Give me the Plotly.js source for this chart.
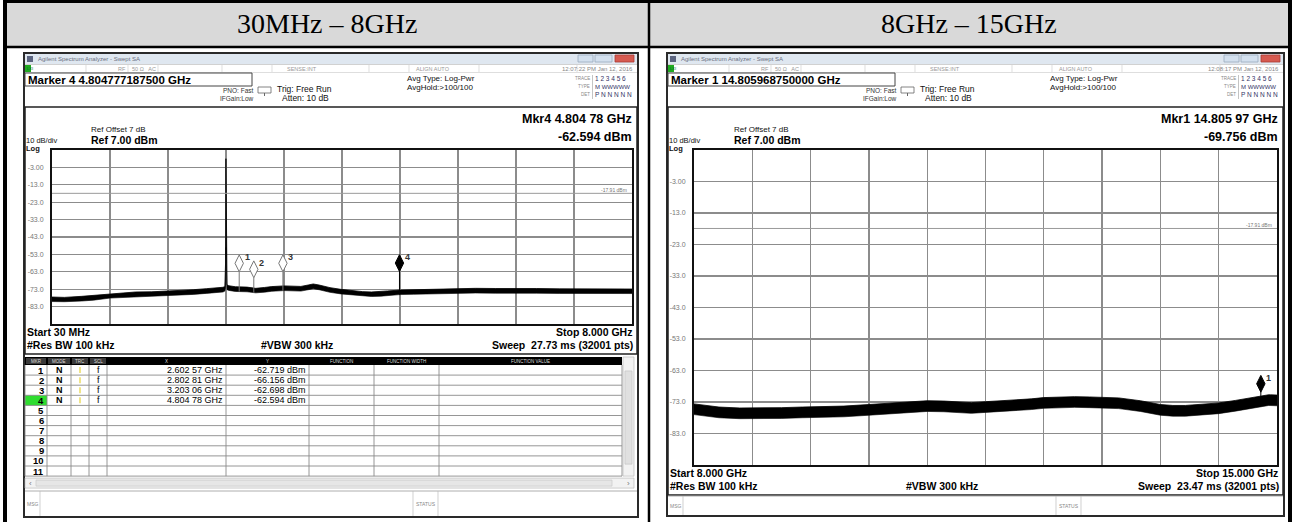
<!DOCTYPE html>
<html><head><meta charset="utf-8">
<script src="https://cdn.plot.ly/plotly-3.0.1.min.js"></script>
<style>html,body{margin:0;padding:0;background:#fff;}#chart{width:1292px;height:522px;}</style>
</head><body><div id="chart"></div>
<script>
// ---------------- data ----------------
const headers = ['30MHz – 8GHz', '8GHz – 15GHz'];
const yTickVals = [-3, -13, -23, -33, -43, -53, -63, -73, -83];
const yTickText = ['-3.00', '-13.0', '-23.0', '-33.0', '-43.0', '-53.0', '-63.0', '-73.0', '-83.0'];
const refLevel = 7, bottomLevel = -93;
const limitLine = -17.91;

// panel 1 : 30 MHz – 8 GHz
const spanL = [0.03, 8.0];
const freqL = [0.03,0.2,0.44,0.6,0.83,1.0,1.18,1.4,1.61,1.8,1.97,2.15,2.3,2.38,2.405,2.415,2.42,2.425,2.435,2.46,2.55,2.71,2.83,2.95,3.05,3.22,3.35,3.45,3.55,3.62,3.7,3.85,4.0,4.13,4.3,4.42,4.55,4.64,4.81,5.0,5.27,5.45,5.61,5.85,6.12,6.4,6.69,7.0,7.26,7.6,8.0];
const upperL = [-77.5,-77.7,-77.1,-76.6,-75.5,-75.1,-74.6,-74.5,-74.2,-73.8,-73.3,-72.7,-72.3,-71.9,-71.4,-58,2,-56,-70.5,-71.0,-71.6,-71.8,-72.5,-72.0,-71.5,-71.1,-71.4,-71.4,-70.6,-70.0,-70.6,-72.1,-73.1,-73.7,-74.4,-74.6,-74.4,-74.0,-73.5,-73.3,-73.1,-72.7,-72.4,-72.5,-72.6,-72.4,-72.6,-72.8,-72.8,-72.7,-72.9];
const lowerL = [-80.1,-80.2,-79.8,-79.3,-78.1,-77.8,-77.3,-77.2,-76.9,-76.5,-76.0,-75.4,-75.0,-74.6,-74.1,-72,-49,-71,-73.3,-73.7,-74.3,-74.5,-75.1,-74.7,-74.2,-73.8,-74.1,-74.1,-73.3,-72.7,-73.3,-74.8,-75.7,-76.3,-77.0,-77.2,-77.0,-76.6,-76.1,-75.9,-75.7,-75.3,-75.1,-75.2,-75.3,-75.1,-75.3,-75.4,-75.5,-75.4,-75.5];
const mkNumL = ['1', '2', '3', '4'];
const mkFreqL = [2.60257, 2.80281, 3.20306, 4.80478];
const mkLevelL = [-62.719, -66.156, -62.698, -62.594];
const mkXText = ['2.602 57 GHz', '2.802 81 GHz', '3.203 06 GHz', '4.804 78 GHz'];
const mkYText = ['-62.719 dBm', '-66.156 dBm', '-62.698 dBm', '-62.594 dBm'];
const activeL = 3; // marker 4 is the active one

// panel 2 : 8 GHz – 15 GHz
const spanR = [8.0, 15.0];
const freqR = [8.0,8.15,8.3,8.55,8.8,9.05,9.3,9.55,9.8,10.1,10.3,10.5,10.8,11.0,11.2,11.33,11.5,11.7,11.9,12.05,12.2,12.4,12.57,12.75,12.9,13.1,13.36,13.6,13.75,13.9,14.1,14.3,14.5,14.65,14.8,14.9,15.0];
const upperR = [-73.6,-74.2,-74.6,-74.9,-74.9,-74.8,-74.6,-74.5,-74.3,-73.8,-73.4,-73.0,-72.6,-72.7,-72.9,-73.2,-72.9,-72.6,-72.3,-72.0,-71.6,-71.4,-71.3,-71.4,-71.5,-71.7,-72.6,-73.8,-74.1,-74.1,-73.7,-73.3,-72.5,-71.8,-71.1,-70.7,-70.8];
const lowerR = [-77.0,-77.6,-78.0,-78.3,-78.3,-78.2,-78.0,-77.9,-77.7,-77.2,-76.8,-76.4,-76.0,-76.1,-76.3,-76.6,-76.3,-76.0,-75.7,-75.4,-75.0,-74.8,-74.7,-74.8,-74.9,-75.1,-76.0,-77.2,-77.5,-77.5,-77.1,-76.7,-75.9,-75.2,-74.5,-74.1,-74.2];
const mkNumR = ['1'];
const mkFreqR = [14.80597];
const mkLevelR = [-69.756];

const infoL = {
  marker: 'Marker 4 4.804777187500 GHz', time: '12:07:22 PM Jan 12, 2016',
  mkr1: 'Mkr4 4.804 78 GHz', mkr2: '-62.594 dBm',
  start: 'Start 30 MHz', stop: 'Stop 8.000 GHz', sweep: 'Sweep  27.73 ms (32001 pts)'
};
const infoR = {
  marker: 'Marker 1 14.805968750000 GHz', time: '12:08:17 PM Jan 12, 2016',
  mkr1: 'Mkr1 14.805 97 GHz', mkr2: '-69.756 dBm',
  start: 'Start 8.000 GHz', stop: 'Stop 15.000 GHz', sweep: 'Sweep  23.47 ms (32001 pts)'
};
const tableHead = ['MKR', 'MODE', 'TRC', 'SCL', 'X', 'Y', 'FUNCTION', 'FUNCTION WIDTH', 'FUNCTION VALUE'];
const tableRows = 11;

// ---------------- helpers ----------------
const W = 1292, H = 522;
const shapes = [], ann = [];
const SANS = 'Liberation Sans, Arial, sans-serif';
const NARROW = 'Liberation Sans Narrow, Liberation Sans, Arial, sans-serif';
const X = px => px / W, Y = py => 1 - py / H;
function rect(x0, y0, x1, y1, fill, lc, lw, layer) {
  shapes.push({type: 'rect', xref: 'paper', yref: 'paper', x0: X(x0), x1: X(x1), y0: Y(y1), y1: Y(y0),
    fillcolor: fill || 'rgba(0,0,0,0)', line: {color: lc || 'rgba(0,0,0,0)', width: lw || 0}, layer: layer || 'above'});
}
function seg(x0, y0, x1, y1, color, lw, layer) {
  shapes.push({type: 'line', xref: 'paper', yref: 'paper', x0: X(x0), x1: X(x1), y0: Y(y0), y1: Y(y1),
    line: {color: color, width: lw}, layer: layer || 'above'});
}
function txt(s, x, y, size, o) {
  o = o || {};
  ann.push({xref: 'paper', yref: 'paper', x: X(x), y: Y(y), text: o.bold ? '<b>' + s + '</b>' : s, showarrow: false,
    xanchor: o.anchor || 'left', yanchor: 'middle', borderpad: 0,
    font: {family: o.family || SANS, size: size, color: o.color || '#000'}});
}
function interp(xs, ys, x) {
  for (let i = 1; i < xs.length; i++) if (x <= xs[i]) {
    const t = (x - xs[i - 1]) / (xs[i] - xs[i - 1]); return ys[i - 1] + t * (ys[i] - ys[i - 1]);
  }
  return ys[ys.length - 1];
}
const gridX = s => Array.from({length: 9}, (_, k) => s[0] + (k + 1) * (s[1] - s[0]) / 10);

// ---------------- outer table ----------------
rect(7, 3, 1288, 46, '#d9d9d9', null, 0, 'below');
seg(3, 1.5, 1292, 1.5, '#000', 3);
seg(5, 0, 5, 522, '#000', 4);
seg(1290, 0, 1290, 522, '#000', 4);
seg(649, 0, 649, 522, '#000', 2.5);
seg(3, 47, 1292, 47, '#000', 2.6);
txt(headers[0], 327, 23, 28, {anchor: 'center', family: 'Liberation Serif, Times New Roman, serif'});
txt(headers[1], 969, 23, 28, {anchor: 'center', family: 'Liberation Serif, Times New Roman, serif'});

// ---------------- analyzer window ----------------
function panel(p, info) {
  const L = p.left, R = p.right, T = 53, B = p.bottom;
  rect(L, T, R, B, '#fff', '#2a2a2a', 2, 'below');
  // title bar
  rect(L + 1, T + 1, R - 1, T + 11, '#dfe7f0', null, 0, 'below');
  rect(L + 3, T + 3, L + 9, T + 9, '#5b6480');
  txt('Agilent Spectrum Analyzer - Swept SA', L + 13, T + 6, 6, {color: '#6a7080'});
  rect(R - 60, T + 2, R - 45, T + 9, '#d3e0ee', '#9aabbd', 0.8);
  rect(R - 43, T + 2, R - 26, T + 9, '#d3e0ee', '#9aabbd', 0.8);
  rect(R - 23, T + 2, R - 4, T + 9, '#d65a50', '#a83a33', 0.8);
  // status row
  seg(L + 1, T + 11.5, R - 1, T + 11.5, '#c5c5c5', 0.8);
  seg(L + 1, T + 19.5, R - 1, T + 19.5, '#d5d5d5', 0.8);
  rect(L + 1, T + 12, L + 7, T + 19, '#1faa1f');
  txt('LXI', L + 1.5, T + 15.5, 4, {color: '#063'});
  [62, 104, 134, 198, 248, 345, 385, 455, 553].forEach(d => seg(L + d, T + 12, L + d, T + 19, '#d0d0d0', 0.7));
  txt('RF', L + 93, T + 15.5, 5.5, {color: '#999'});
  txt('50 Ω   AC', L + 107, T + 15.5, 5.5, {color: '#999'});
  txt('SENSE:INT', L + 262, T + 15.5, 5.5, {color: '#999'});
  txt('ALIGN AUTO', L + 391, T + 15.5, 5.5, {color: '#999'});
  txt(info.time, R - 4, T + 15.5, 6, {anchor: 'right', color: '#888'});
  // marker line
  rect(L + 1, T + 20, L + 228, T + 33, '#fff', '#444', 1);
  txt(info.marker, L + 3, T + 26.5, 11.5, {bold: true});
  txt('PNO: Fast', L + 198, T + 37, 6.5, {color: '#333', family: NARROW});
  txt('IFGain:Low', L + 195, T + 45, 6.5, {color: '#333', family: NARROW});
  rect(L + 234, T + 34, L + 247, T + 40, '#fff', '#666', 0.8);
  seg(L + 240.5, T + 40, L + 240.5, T + 43, '#666', 1);
  txt('Trig: Free Run', L + 252, T + 35.5, 8.5, {color: '#111'});
  txt('Atten: 10 dB', L + 257, T + 44.5, 8.5, {color: '#111'});
  txt('Avg Type: Log-Pwr', L + 382, T + 25.5, 8, {color: '#111'});
  txt('AvgHold:>100/100', L + 382, T + 35, 8, {color: '#111'});
  txt('TRACE', R - 47, T + 26, 4.5, {anchor: 'right', color: '#888'});
  txt('TYPE', R - 47, T + 34, 4.5, {anchor: 'right', color: '#888'});
  txt('DET', R - 47, T + 42, 4.5, {anchor: 'right', color: '#888'});
  seg(R - 45.5, T + 22, R - 45.5, T + 46, '#aaa', 0.7);
  txt('1 2 3 4 5 6', R - 44, T + 26, 6.5, {color: '#336'});
  txt('M WWWWW', R - 44, T + 34, 6, {color: '#336'});
  txt('P N N N N N', R - 44, T + 42, 6.5, {color: '#336'});
  // measurement box
  rect(L + 1, 107, R - 1, p.boxBottom, 'rgba(0,0,0,0)', '#222', 1.5);
  txt(info.mkr1, R - 5, 119, 12.5, {anchor: 'right', bold: true});
  txt(info.mkr2, R - 5, 136.5, 12.5, {anchor: 'right', bold: true});
  txt('Ref Offset 7 dB', L + 66, 129, 8, {color: '#111'});
  txt('10 dB/div', L + 1, 140, 7.5, {color: '#111'});
  txt('Ref 7.00 dBm', L + 66, 140.5, 10.5, {bold: true});
  txt('Log', L + 1, 148.5, 7.5, {bold: true, color: '#111'});
  const pb = p.plotBottom;
  txt(info.start, L + 2, pb + 7.5, 10.5, {bold: true});
  txt('#Res BW 100 kHz', L + 2, pb + 21, 10.5, {bold: true});
  txt('#VBW 300 kHz', p.vbwX, pb + 21, 10.5, {bold: true, anchor: 'center'});
  txt(info.stop, R - 5, pb + 7.5, 10.5, {bold: true, anchor: 'right'});
  txt(info.sweep, R - 4, pb + 21, 10.5, {bold: true, anchor: 'right'});
  // message row
  const my = p.msgTop;
  seg(L + 1, my, R - 1, my, '#999', 0.8);
  seg(L + 16, my, L + 16, B - 1, '#bbb', 0.7);
  txt('MSG', L + 2, (my + B) / 2, 5, {color: '#888'});
  seg(L + 389, my, L + 389, B - 1, '#bbb', 0.7);
  seg(L + 414, my, L + 414, B - 1, '#bbb', 0.7);
  txt('STATUS', L + 391, (my + B) / 2, 5, {color: '#888'});
}

const pL = {left: 24, right: 638, bottom: 517, boxBottom: 354, plotBottom: 324, vbwX: 297, msgTop: 491};
const pR = {left: 667, right: 1284, bottom: 516, boxBottom: 495, plotBottom: 465, vbwX: 942, msgTop: 496};
panel(pL, infoL);
panel(pR, infoR);

// marker table (left window only)
(function () {
  const cols = [25, 47, 71, 89, 107, 226, 309, 374, 439, 622];
  const hT = 357, hB = 365, rowH = 10.1;
  rect(25, hT, 622, hB, '#000');
  [25, 47, 71, 89].forEach((c, i) => rect(c + 1, hT + 1, cols[i + 1] - 1, hB - 1, '#3a3a3a'));
  tableHead.forEach((h, i) => txt(h, (cols[i] + cols[i + 1]) / 2, (hT + hB) / 2, 4.5, {anchor: 'center', color: '#ddd'}));
  const tb = hB + rowH * tableRows;
  rect(25, hB + rowH * activeL, 47, hB + rowH * (activeL + 1), '#2fdc2f');
  for (let r = 1; r <= tableRows; r++) seg(25, hB + rowH * r, 622, hB + rowH * r, '#8a8a8a', 0.9);
  cols.forEach(c => seg(c, hB, c, tb, '#8a8a8a', 0.9));
  for (let r = 0; r < tableRows; r++) {
    const cy = hB + rowH * (r + 0.5);
    txt(String(r + 1), 45, cy, 9.5, {anchor: 'right', bold: true});
    if (r < mkNumL.length) {
      txt('N', 59, cy, 9, {anchor: 'center', bold: true});
      seg(80, cy - 3, 80, cy + 3, '#e6d23c', 1.2);
      txt('f', 98, cy, 9, {anchor: 'center'});
      txt(mkXText[r], 224, cy, 9, {anchor: 'right', family: NARROW});
      txt(mkYText[r], 307, cy, 9, {anchor: 'right', family: NARROW});
    }
  }
  // scroll bars
  rect(623, hT, 634, tb, '#f2f2f2', '#bbb', 0.7);
  rect(625, hT + 14, 632, tb - 12, '#e0e0e0', '#c4c4c4', 0.7);
  rect(25, tb + 2, 634, tb + 12, '#f2f2f2', '#bbb', 0.7);
  rect(36, tb + 4, 612, tb + 10, '#e6e6e6', '#c8c8c8', 0.7);
  txt('‹', 28, tb + 7, 8, {color: '#777'});
  txt('›', 631, tb + 7, 8, {color: '#777', anchor: 'right'});
})();

// ---------------- plots ----------------
const GRID = '#8c8c8c';
function xAxis(dom, span, anchor) {
  return {domain: dom, range: span, tickvals: gridX(span), showticklabels: false, ticks: '', showgrid: true,
    gridcolor: GRID, gridwidth: 1.3, zeroline: false, showline: true, mirror: true, linecolor: '#111', linewidth: 2,
    anchor: anchor, fixedrange: true};
}
function yAxis(dom, anchor) {
  return {domain: dom, range: [bottomLevel, refLevel], tickvals: yTickVals, ticktext: yTickText, ticks: '',
    tickfont: {size: 7, color: '#777', family: NARROW}, ticklabelstandoff: 5, showgrid: true, gridcolor: GRID,
    gridwidth: 1.3, zeroline: false, showline: true, mirror: true, linecolor: '#111', linewidth: 2,
    anchor: anchor, fixedrange: true};
}

const traces = [];
function addPanelTraces(xa, ya, fr, lo, up, mkF, mkV, mkN, pxPerDb, activeIdx, span) {
  traces.push({x: fr, y: lo, xaxis: xa, yaxis: ya, mode: 'lines', line: {color: '#000', width: 0.6}, hoverinfo: 'skip'});
  traces.push({x: fr, y: up, xaxis: xa, yaxis: ya, mode: 'lines', fill: 'tonexty', fillcolor: '#000',
    line: {color: '#000', width: 0.8}, hoverinfo: 'skip'});
  const off = 8 / pxPerDb; // diamond sits on top of the marker point
  mkF.forEach((f, i) => {
    const act = i === activeIdx;
    traces.push({x: [f, f], y: [mkV[i], interp(fr, lo, f)], xaxis: xa, yaxis: ya, mode: 'lines',
      line: {color: act ? '#000' : '#777', width: 1}, hoverinfo: 'skip'});
    traces.push({x: [f], y: [mkV[i] + off], xaxis: xa, yaxis: ya, mode: 'markers', hoverinfo: 'skip',
      marker: {symbol: 'diamond-tall', size: 12, color: act ? '#000' : '#fff', line: {color: act ? '#000' : '#777', width: 1}}});
    ann.push({xref: xa, yref: ya, x: f, y: mkV[i] + off, text: '<b>' + mkN[i] + '</b>', showarrow: false,
      xshift: 8, yshift: 6, font: {family: SANS, size: 9, color: '#333'}});
  });
  shapes.push({type: 'line', xref: xa, yref: ya, x0: span[0], x1: span[1], y0: limitLine, y1: limitLine,
    line: {color: '#9a9a9a', width: 1}, layer: 'above'});
  ann.push({xref: xa, yref: ya, x: span[1], y: limitLine, text: limitLine.toFixed(2) + ' dBm', showarrow: false,
    xanchor: 'right', yshift: 3, xshift: -3, font: {family: NARROW, size: 5, color: '#777'}});
}
addPanelTraces('x', 'y', freqL, lowerL, upperL, mkFreqL, mkLevelL, mkNumL, 1.74, activeL, spanL);
addPanelTraces('x2', 'y2', freqR, lowerR, upperR, mkFreqR, mkLevelR, mkNumR, 3.15, 0, spanR);

const layout = {
  width: W, height: H, margin: {l: 0, r: 0, t: 0, b: 0}, paper_bgcolor: '#fff', plot_bgcolor: 'rgba(0,0,0,0)',
  showlegend: false, hovermode: false,
  xaxis: xAxis([X(52), X(632)], spanL, 'y'),
  yaxis: yAxis([Y(324), Y(150)], 'x'),
  xaxis2: xAxis([X(694), X(1277)], spanR, 'y2'),
  yaxis2: yAxis([Y(465), Y(150)], 'x2'),
  shapes: shapes, annotations: ann
};
Plotly.newPlot('chart', traces, layout, {staticPlot: true, displayModeBar: false});
</script></body></html>
